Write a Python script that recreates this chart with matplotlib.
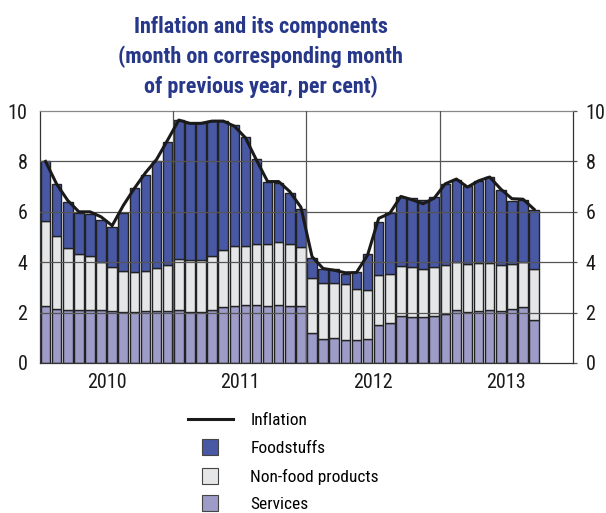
import matplotlib.pyplot as plt
from matplotlib.lines import Line2D
import numpy as np

plt.rcParams['font.family'] = ['Roboto Condensed', 'Liberation Sans Narrow', 'Roboto', 'DejaVu Sans']

# Monthly data, Jan 2010 - Sep 2013 (per cent)
years = ["2010", "2011", "2012", "2013"]

services = [2.25, 2.15, 2.09, 2.09, 2.11, 2.11, 2.05, 2.01, 2.01, 2.05, 2.07, 2.07,
            2.11, 2.03, 2.01, 2.09, 2.21, 2.26, 2.29, 2.31, 2.27, 2.30, 2.27, 2.25,
            1.20, 0.96, 1.00, 0.93, 0.92, 0.96, 1.52, 1.58, 1.88, 1.82, 1.82, 1.86,
            1.95, 2.09, 2.01, 2.07, 2.11, 2.07, 2.15, 2.23, 1.72]
nonfood = [3.40, 2.89, 2.47, 2.22, 2.12, 1.88, 1.74, 1.65, 1.59, 1.61, 1.71, 1.80,
           2.03, 2.04, 2.09, 2.15, 2.26, 2.38, 2.36, 2.41, 2.44, 2.49, 2.44, 2.36,
           2.19, 2.23, 2.19, 2.20, 2.03, 1.95, 1.99, 1.96, 1.96, 1.97, 1.93, 1.93,
           1.93, 1.93, 1.93, 1.89, 1.84, 1.83, 1.77, 1.79, 2.00]
food = [2.36, 2.06, 1.82, 1.66, 1.69, 1.69, 1.60, 2.31, 3.34, 3.80, 4.24, 4.90,
        5.50, 5.44, 5.41, 5.36, 5.13, 4.79, 4.33, 3.38, 2.47, 2.35, 2.03, 1.51,
        0.79, 0.53, 0.53, 0.42, 0.67, 1.41, 2.10, 2.40, 2.74, 2.74, 2.73, 2.79,
        3.23, 3.25, 3.09, 3.25, 3.43, 2.98, 2.52, 2.46, 2.36]
inflation = [8.00, 7.10, 6.45, 6.00, 6.00, 5.80, 5.45, 6.25, 6.93, 7.55, 8.08, 8.85,
             9.64, 9.51, 9.51, 9.60, 9.60, 9.40, 8.94, 8.05, 7.20, 7.20, 6.80, 6.18,
             4.22, 3.75, 3.68, 3.58, 3.59, 4.28, 5.74, 5.94, 6.61, 6.48, 6.32, 6.54,
             7.11, 7.30, 6.98, 7.23, 7.38, 6.90, 6.52, 6.50, 6.10]

c_food = "#4858a5"
c_nonfood = "#e5e6e7"
c_services = "#9d9bc8"
c_title = "#27378a"

fig = plt.figure(figsize=(6.06, 5.13), dpi=100)
ax = fig.add_axes([0.066, 0.2924, 0.8795, 0.4912])

x = np.arange(len(inflation)) + 0.5
services = np.array(services)
nonfood = np.array(nonfood)
food = np.array(food)

bar_kw = dict(width=0.86, edgecolor="#222222", linewidth=1.0, zorder=2)
ax.bar(x, services, color=c_services, **bar_kw)
ax.bar(x, nonfood, bottom=services, color=c_nonfood, **bar_kw)
ax.bar(x, food, bottom=services + nonfood, color=c_food, **bar_kw)

# grid drawn over the bars
for v in [2, 4, 6, 8]:
    ax.axhline(v, color="#555555", linewidth=0.9, zorder=3)
for b in [12, 24, 36]:
    ax.axvline(b, color="#555555", linewidth=0.9, zorder=3)

ax.plot(x, inflation, color="#1a1a1a", linewidth=2.2, zorder=4)

ax.set_xlim(0, 48)
ax.set_ylim(0, 10)
ax.set_yticks([0, 2, 4, 6, 8, 10])
ax.set_xticks([6, 18, 30, 42])
ax.set_xticklabels(years)
ax.tick_params(axis="both", labelsize=14.5, colors="#1a1a1a")
ax.tick_params(axis="x", length=0, pad=7)
ax.tick_params(axis="y", left=False, right=True, direction="out", length=3,
               width=0.9, color="#555555", pad=6, labelright=True)
ax.tick_params(axis="y", which="major", labelleft=True)
for side, s in ax.spines.items():
    s.set_color("#888888" if side == "top" else "#333333")
    s.set_linewidth(0.9)

fig.text(0.43, 0.968, "Inflation and its components\n(month on corresponding month\nof previous year, per cent)",
         ha="center", va="top", fontsize=16, fontweight="bold", color=c_title,
         linespacing=1.42)

handles = [
    Line2D([], [], color="#1a1a1a", linewidth=2.2),
    Line2D([], [], linestyle="none", marker="s", markersize=11,
           markerfacecolor=c_food, markeredgecolor="#444444", markeredgewidth=0.8),
    Line2D([], [], linestyle="none", marker="s", markersize=11,
           markerfacecolor=c_nonfood, markeredgecolor="#444444", markeredgewidth=0.8),
    Line2D([], [], linestyle="none", marker="s", markersize=11,
           markerfacecolor=c_services, markeredgecolor="#444444", markeredgewidth=0.8),
]
labels = ["Inflation", "Foodstuffs", "Non-food products", "Services"]
fig.legend(handles, labels, loc="upper left", bbox_to_anchor=(0.31, 0.195),
           frameon=False, fontsize=12.5, handlelength=2.6, handletextpad=1.0,
           labelspacing=0.73, borderpad=0, borderaxespad=0)

fig.savefig("out.png", dpi=100)
